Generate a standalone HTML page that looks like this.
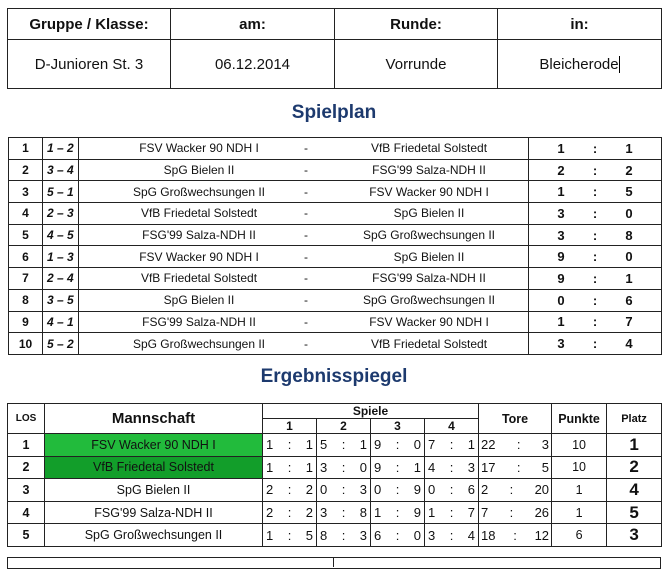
<!DOCTYPE html>
<html><head><meta charset="utf-8"><style>
body{margin:0;width:668px;height:562px;background:#fff;overflow:hidden;font-family:"Liberation Sans",Arial,sans-serif;color:#111;position:relative}
.a{position:absolute}
table{border-collapse:collapse;position:absolute;table-layout:fixed}
td{border:1px solid #222;padding:0;text-align:center;overflow:hidden;white-space:nowrap}
.t1 td{border:1.5px solid #222}
.h{font-weight:bold;font-size:15px}
.v{font-size:15px}
.title{position:absolute;left:0;width:668px;text-align:center;color:#1d3a6e;font-weight:bold;font-size:19px}
.sp td{font-size:12px;height:20.7px}
.sp td.n{font-weight:bold}
.sp td.p{font-style:italic;font-weight:bold;text-align:left;padding-left:4px}
.sp .g{padding:0 17px}
.er td{font-size:12.5px}
.g{display:flex;justify-content:space-between;padding:0 3px;font-size:13px}
</style></head><body>
<table class="t1" style="left:7px;top:8px;width:654px">
<colgroup><col style="width:163px"><col style="width:164px"><col style="width:163px"><col style="width:164px"></colgroup>
<tr style="height:31px"><td class="h">Gruppe / Klasse:</td><td class="h">am:</td><td class="h">Runde:</td><td class="h">in:</td></tr>
<tr style="height:49px"><td class="v">D-Junioren St. 3</td><td class="v">06.12.2014</td><td class="v">Vorrunde</td><td class="v">Bleicherode<span style="border-left:1px solid #000">&#8203;</span></td></tr>
</table>
<div class="title" style="top:102px">Spielplan</div>
<table class="sp" style="left:8px;top:137px;width:653px">
<colgroup><col style="width:34px"><col style="width:36px"><col style="width:450px"><col style="width:133px"></colgroup>
<tr><td class="n">1</td><td class="p">1 – 2</td><td><div style="position:relative;height:14px"><span class="a" style="left:0;width:240px">FSV Wacker 90 NDH I</span><span class="a" style="left:225px">-</span><span class="a" style="left:235px;width:230px">VfB Friedetal Solstedt</span></div></td><td><div class="g"><b style="width:30px">1</b><b>:</b><b style="width:30px">1</b></div></td></tr>
<tr><td class="n">2</td><td class="p">3 – 4</td><td><div style="position:relative;height:14px"><span class="a" style="left:0;width:240px">SpG Bielen II</span><span class="a" style="left:225px">-</span><span class="a" style="left:235px;width:230px">FSG'99 Salza-NDH II</span></div></td><td><div class="g"><b style="width:30px">2</b><b>:</b><b style="width:30px">2</b></div></td></tr>
<tr><td class="n">3</td><td class="p">5 – 1</td><td><div style="position:relative;height:14px"><span class="a" style="left:0;width:240px">SpG Großwechsungen II</span><span class="a" style="left:225px">-</span><span class="a" style="left:235px;width:230px">FSV Wacker 90 NDH I</span></div></td><td><div class="g"><b style="width:30px">1</b><b>:</b><b style="width:30px">5</b></div></td></tr>
<tr><td class="n">4</td><td class="p">2 – 3</td><td><div style="position:relative;height:14px"><span class="a" style="left:0;width:240px">VfB Friedetal Solstedt</span><span class="a" style="left:225px">-</span><span class="a" style="left:235px;width:230px">SpG Bielen II</span></div></td><td><div class="g"><b style="width:30px">3</b><b>:</b><b style="width:30px">0</b></div></td></tr>
<tr><td class="n">5</td><td class="p">4 – 5</td><td><div style="position:relative;height:14px"><span class="a" style="left:0;width:240px">FSG'99 Salza-NDH II</span><span class="a" style="left:225px">-</span><span class="a" style="left:235px;width:230px">SpG Großwechsungen II</span></div></td><td><div class="g"><b style="width:30px">3</b><b>:</b><b style="width:30px">8</b></div></td></tr>
<tr><td class="n">6</td><td class="p">1 – 3</td><td><div style="position:relative;height:14px"><span class="a" style="left:0;width:240px">FSV Wacker 90 NDH I</span><span class="a" style="left:225px">-</span><span class="a" style="left:235px;width:230px">SpG Bielen II</span></div></td><td><div class="g"><b style="width:30px">9</b><b>:</b><b style="width:30px">0</b></div></td></tr>
<tr><td class="n">7</td><td class="p">2 – 4</td><td><div style="position:relative;height:14px"><span class="a" style="left:0;width:240px">VfB Friedetal Solstedt</span><span class="a" style="left:225px">-</span><span class="a" style="left:235px;width:230px">FSG'99 Salza-NDH II</span></div></td><td><div class="g"><b style="width:30px">9</b><b>:</b><b style="width:30px">1</b></div></td></tr>
<tr><td class="n">8</td><td class="p">3 – 5</td><td><div style="position:relative;height:14px"><span class="a" style="left:0;width:240px">SpG Bielen II</span><span class="a" style="left:225px">-</span><span class="a" style="left:235px;width:230px">SpG Großwechsungen II</span></div></td><td><div class="g"><b style="width:30px">0</b><b>:</b><b style="width:30px">6</b></div></td></tr>
<tr><td class="n">9</td><td class="p">4 – 1</td><td><div style="position:relative;height:14px"><span class="a" style="left:0;width:240px">FSG'99 Salza-NDH II</span><span class="a" style="left:225px">-</span><span class="a" style="left:235px;width:230px">FSV Wacker 90 NDH I</span></div></td><td><div class="g"><b style="width:30px">1</b><b>:</b><b style="width:30px">7</b></div></td></tr>
<tr><td class="n">10</td><td class="p">5 – 2</td><td><div style="position:relative;height:14px"><span class="a" style="left:0;width:240px">SpG Großwechsungen II</span><span class="a" style="left:225px">-</span><span class="a" style="left:235px;width:230px">VfB Friedetal Solstedt</span></div></td><td><div class="g"><b style="width:30px">3</b><b>:</b><b style="width:30px">4</b></div></td></tr>
</table>
<div class="title" style="top:366px">Ergebnisspiegel</div>
<table class="er" style="left:7px;top:403px;width:654px">
<colgroup><col style="width:37px"><col style="width:218px"><col style="width:54px"><col style="width:54px"><col style="width:54px"><col style="width:54px"><col style="width:73px"><col style="width:55px"><col style="width:55px"></colgroup>
<tr style="height:14px"><td rowspan="2" style="font-size:10px;font-weight:bold">LOS</td><td rowspan="2" style="font-size:15px;font-weight:bold">Mannschaft</td><td colspan="4" style="font-weight:bold;font-size:12px">Spiele</td><td rowspan="2" style="font-weight:bold">Tore</td><td rowspan="2" style="font-weight:bold">Punkte</td><td rowspan="2" style="font-weight:bold;font-size:11px">Platz</td></tr>
<tr style="height:13px"><td style="font-weight:bold;font-size:12px">1</td><td style="font-weight:bold;font-size:12px">2</td><td style="font-weight:bold;font-size:12px">3</td><td style="font-weight:bold;font-size:12px">4</td></tr>
<tr style="height:22.6px"><td><b>1</b></td><td style="background:#22bb3c">FSV Wacker 90 NDH I</td><td><div class="g"><span>1</span><span>:</span><span>1</span></div></td><td><div class="g"><span>5</span><span>:</span><span>1</span></div></td><td><div class="g"><span>9</span><span>:</span><span>0</span></div></td><td><div class="g"><span>7</span><span>:</span><span>1</span></div></td><td><div class="g" style="padding:0 2px"><span>22</span><span>:</span><span>3</span></div></td><td>10</td><td style="font-weight:bold;font-size:17px">1</td></tr>
<tr style="height:22.6px"><td><b>2</b></td><td style="background:#129e2a">VfB Friedetal Solstedt</td><td><div class="g"><span>1</span><span>:</span><span>1</span></div></td><td><div class="g"><span>3</span><span>:</span><span>0</span></div></td><td><div class="g"><span>9</span><span>:</span><span>1</span></div></td><td><div class="g"><span>4</span><span>:</span><span>3</span></div></td><td><div class="g" style="padding:0 2px"><span>17</span><span>:</span><span>5</span></div></td><td>10</td><td style="font-weight:bold;font-size:17px">2</td></tr>
<tr style="height:22.6px"><td><b>3</b></td><td>SpG Bielen II</td><td><div class="g"><span>2</span><span>:</span><span>2</span></div></td><td><div class="g"><span>0</span><span>:</span><span>3</span></div></td><td><div class="g"><span>0</span><span>:</span><span>9</span></div></td><td><div class="g"><span>0</span><span>:</span><span>6</span></div></td><td><div class="g" style="padding:0 2px"><span>2</span><span>:</span><span>20</span></div></td><td>1</td><td style="font-weight:bold;font-size:17px">4</td></tr>
<tr style="height:22.6px"><td><b>4</b></td><td>FSG'99 Salza-NDH II</td><td><div class="g"><span>2</span><span>:</span><span>2</span></div></td><td><div class="g"><span>3</span><span>:</span><span>8</span></div></td><td><div class="g"><span>1</span><span>:</span><span>9</span></div></td><td><div class="g"><span>1</span><span>:</span><span>7</span></div></td><td><div class="g" style="padding:0 2px"><span>7</span><span>:</span><span>26</span></div></td><td>1</td><td style="font-weight:bold;font-size:17px">5</td></tr>
<tr style="height:22.6px"><td><b>5</b></td><td>SpG Großwechsungen II</td><td><div class="g"><span>1</span><span>:</span><span>5</span></div></td><td><div class="g"><span>8</span><span>:</span><span>3</span></div></td><td><div class="g"><span>6</span><span>:</span><span>0</span></div></td><td><div class="g"><span>3</span><span>:</span><span>4</span></div></td><td><div class="g" style="padding:0 2px"><span>18</span><span>:</span><span>12</span></div></td><td>6</td><td style="font-weight:bold;font-size:17px">3</td></tr>
</table>
<div class="a" style="left:7px;top:557px;width:652px;height:10px;border:1.5px solid #222"></div>
<div class="a" style="left:333px;top:557px;width:1px;height:10px;background:#222"></div>
</body></html>
